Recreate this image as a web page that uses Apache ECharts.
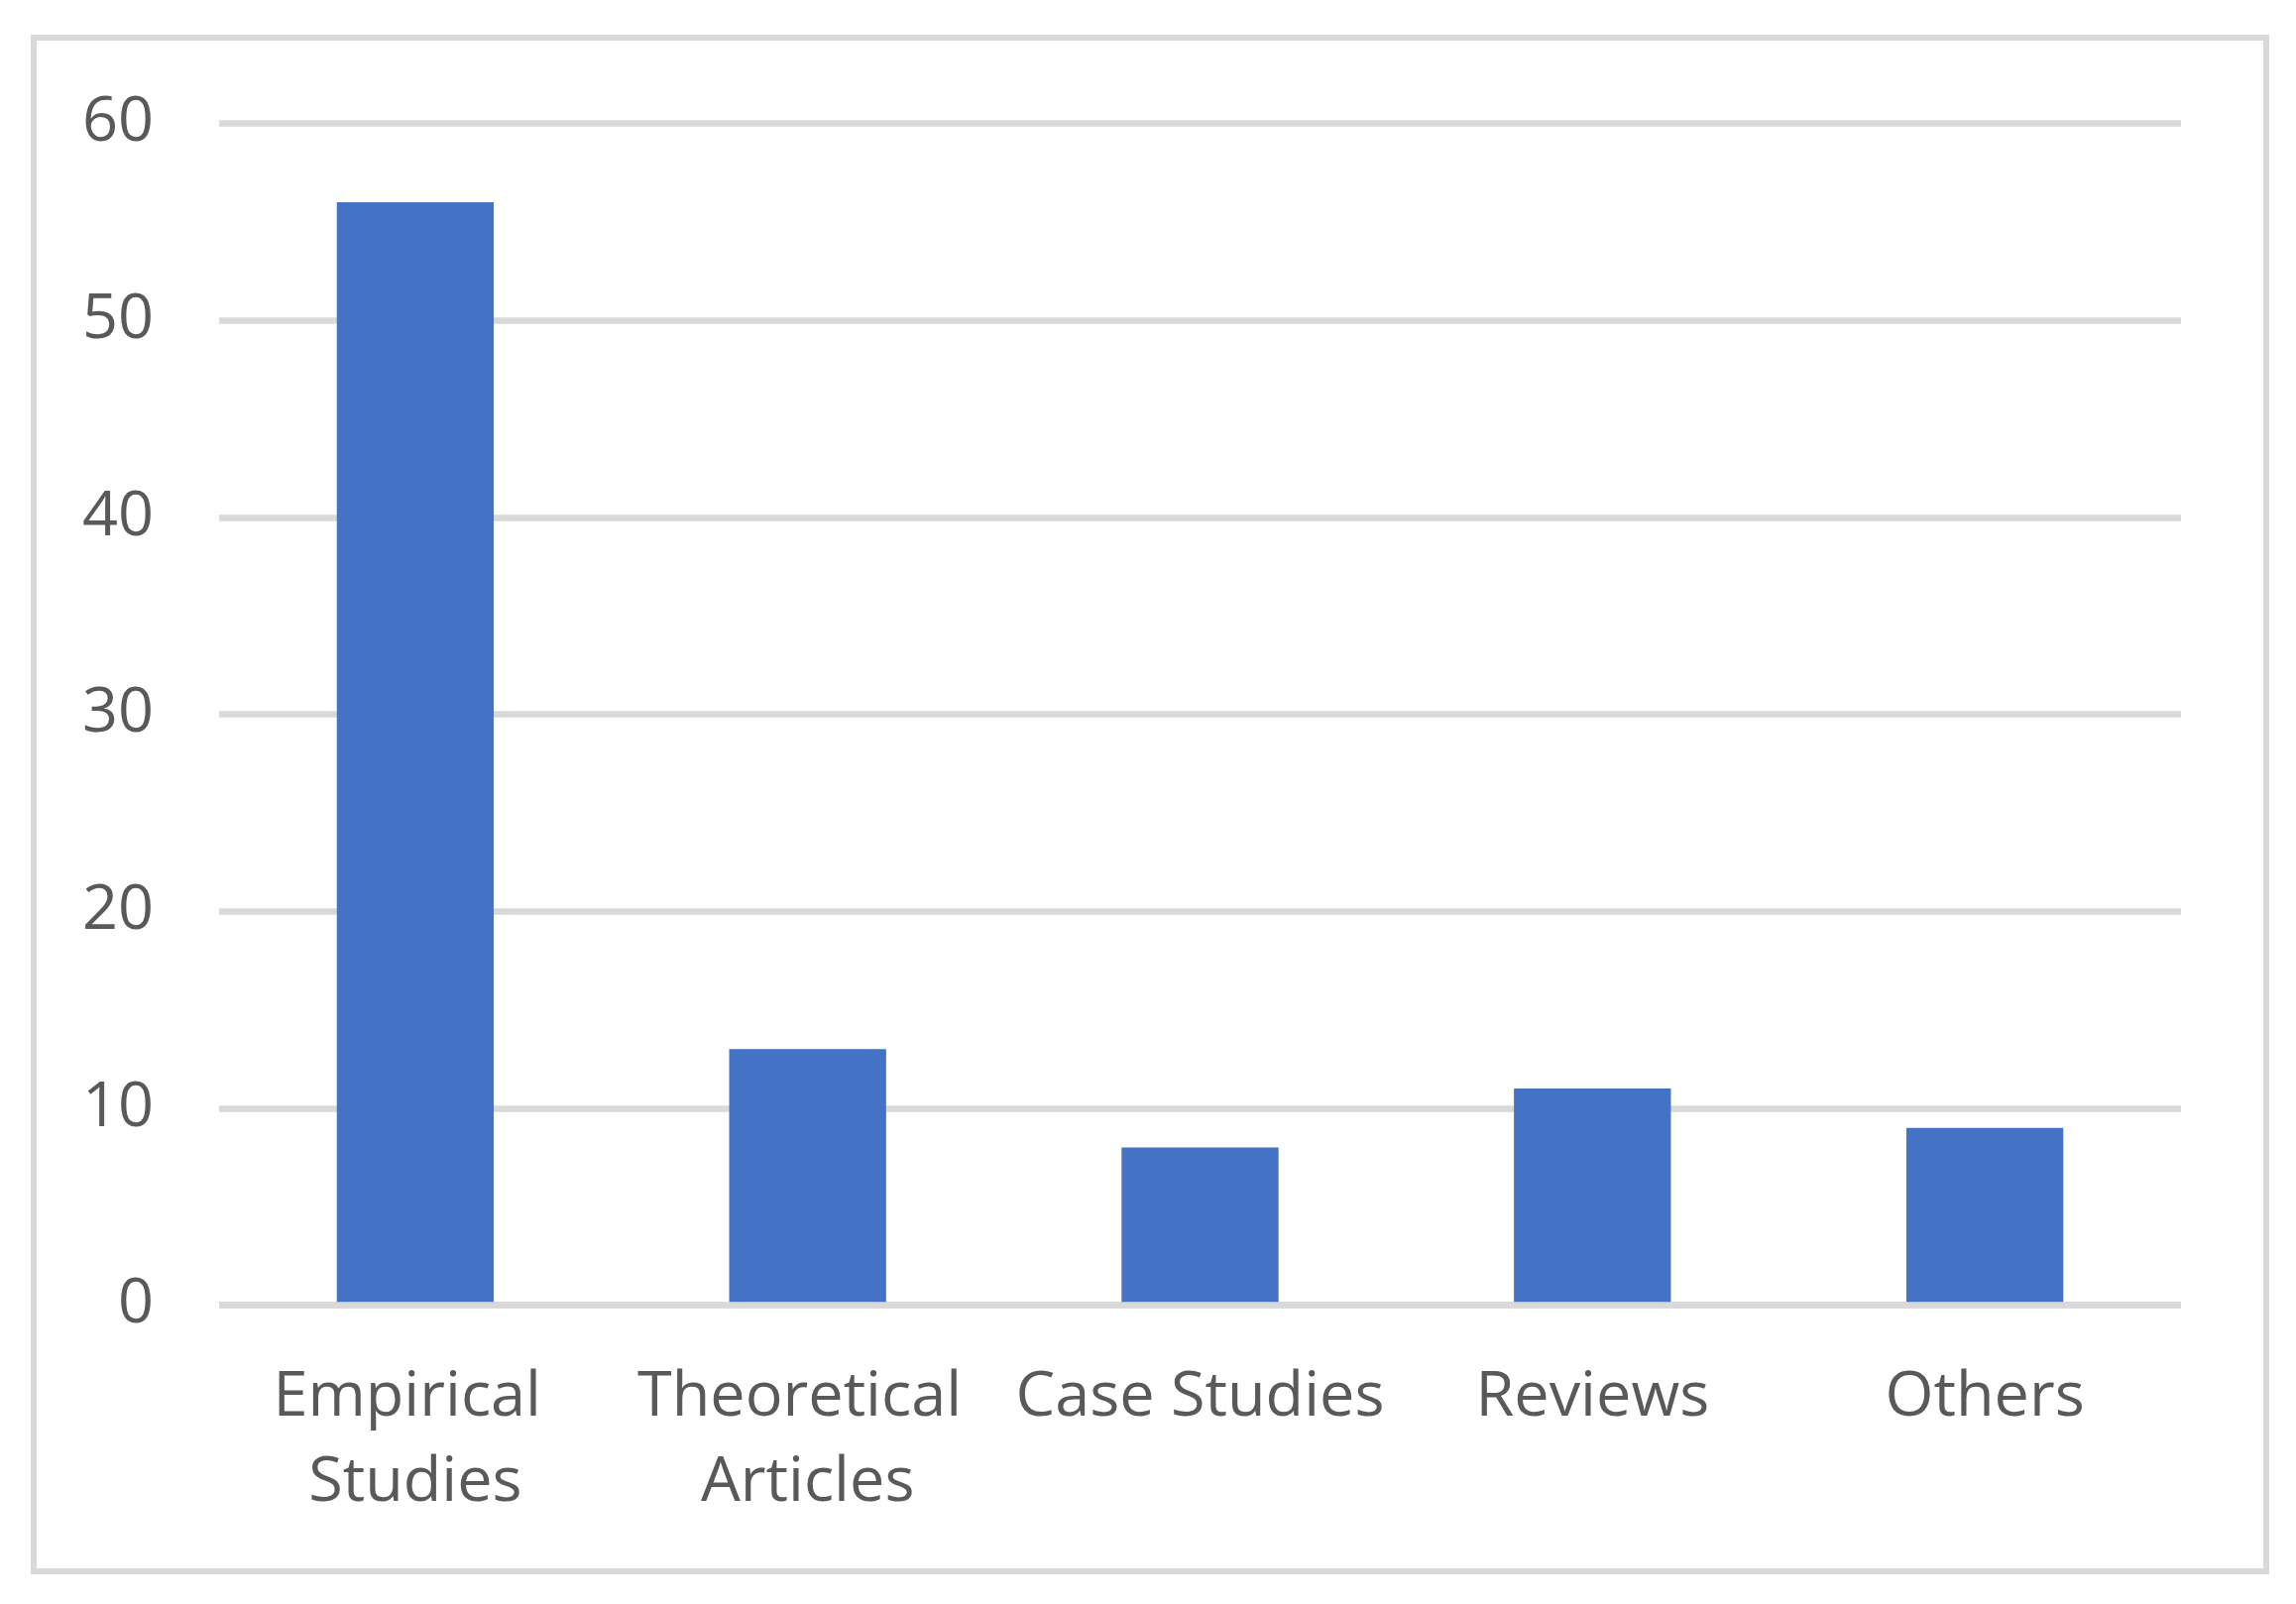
<!DOCTYPE html>
<html>
<head>
<meta charset="utf-8">
<script src="https://cdn.jsdelivr.net/npm/echarts@6/dist/echarts.min.js"></script>
<style>
html,body{margin:0;padding:0;background:#fff;}
#chart{position:absolute;left:0;top:0;width:2316px;height:1618px;}
#frame{position:absolute;left:31px;top:35px;width:2258px;height:1553px;box-sizing:border-box;border:6.5px solid #D9D9D9;pointer-events:none;}
</style>
</head>
<body>
<div id="chart"></div>
<div id="frame"></div>
<script>
const categories = ['Empirical Studies', 'Theoretical Articles', 'Case Studies', 'Reviews', 'Others'];
const counts = [56, 13, 8, 11, 9];
const yMin = 0, yMax = 60, yStep = 10;

const textColor = '#595959';
const gridColor = '#D9D9D9';
const barColor = '#4472C4';
const fontFamily = '"Open Sans", "Noto Sans", sans-serif';

const chart = echarts.init(document.getElementById('chart'), null, {renderer: 'canvas'});
chart.setOption({
  animation: false,
  backgroundColor: '#ffffff',
  grid: {left: 221, right: 116, top: 124.5, bottom: 301.5, containLabel: false},
  xAxis: {
    type: 'category',
    data: categories,
    z: 3,
    axisLine: {show: true, lineStyle: {color: gridColor, width: 6.5, cap: 'butt'}},
    axisTick: {show: false},
    axisLabel: {
      color: textColor, fontFamily: fontFamily, fontSize: 63, lineHeight: 86,
      margin: 51, interval: 0, width: 395, overflow: 'break', align: 'center'
    }
  },
  yAxis: {
    type: 'value',
    min: yMin, max: yMax, interval: yStep,
    axisLine: {show: false},
    axisTick: {show: false},
    splitLine: {show: true, lineStyle: {color: gridColor, width: 6.5}},
    axisLabel: {color: textColor, fontFamily: fontFamily, fontSize: 63, margin: 66}
  },
  series: [{
    type: 'bar',
    data: counts,
    barCategoryGap: '60%',
    itemStyle: {color: barColor}
  }]
});
</script>
</body>
</html>
